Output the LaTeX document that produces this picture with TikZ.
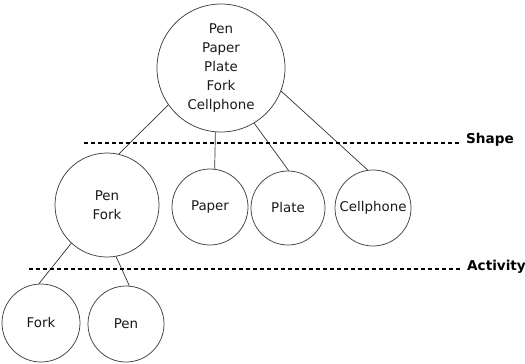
\documentclass[tikz,border=0pt]{standalone}
\usepackage{fontspec}
\setmainfont{DejaVu Sans}
\usetikzlibrary{positioning}

\begin{document}
\begin{tikzpicture}[x=1pt, y=-1pt,
		item/.style={draw=black!75, line width=0.75pt, circle, inner sep=0pt, align=center, text=black!90, font=\fontsize{13.4}{19}\selectfont},
		lvl/.style={anchor=base west, inner xsep=6pt, inner ysep=2pt, font=\bfseries\fontsize{13.6}{17}\selectfont},
		sep/.style={line width=1.5pt, dash pattern=on 4pt off 3pt}]
		\useasboundingbox (0,0) rectangle (525,364);
		\node[item, minimum size=128pt] (root) at (221,68) {Pen\\Paper\\Plate\\Fork\\Cellphone};
		\node[item, minimum size=104pt] (penfork) at (107,205) {Pen\\Fork};
		\node[item, minimum size=76pt] (paper) at (210,207) {Paper};
		\node[item, minimum size=74pt] (plate) at (288,208) {Plate};
		\node[item, minimum size=76pt] (cellphone) at (373,208) {Cellphone};
		\node[item, minimum size=78pt] (fork) at (41,323) {Fork};
		\node[item, minimum size=76pt] (pen) at (126,324) {Pen};
		\foreach \from/\to in {root.215/penfork.77, root.265/paper.83, root.301/plate.89, root.339/cellphone.98, penfork.227/fork.93, penfork.280/pen.85}
			\draw[black!80, line width=0.7pt] (\from) -- (\to);
		% levels
		\coordinate (shapefrom) at (84,143);
		\coordinate (activityfrom) at (29,269);
		\node[lvl] (shape) at (460,143) {Shape};
		\node[lvl] (activity) at (461,270) {Activity};
		\draw[sep] (shapefrom) -- (shapefrom -| shape.west);
		\draw[sep] (activityfrom) -- (activityfrom -| activity.west);
	\end{tikzpicture}
\end{document}
